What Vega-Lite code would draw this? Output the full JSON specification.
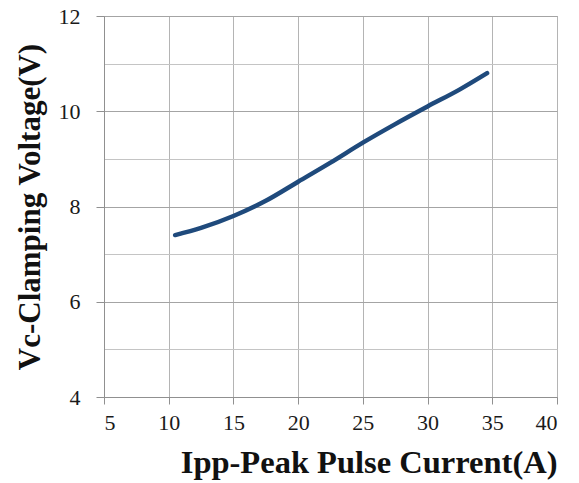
{
  "$schema": "https://vega.github.io/schema/vega-lite/v6.json",
  "width": 453,
  "height": 381,
  "autosize": "none",
  "padding": {"left": 104, "top": 16, "right": 22, "bottom": 86},
  "background": "white",
  "config": {"view": {"stroke": "#a0a0a0", "strokeWidth": 1}},
  "data": {"values": [
    {"current": 10.5, "voltage": 7.4},
    {"current": 12.5, "voltage": 7.55},
    {"current": 15, "voltage": 7.8},
    {"current": 17.5, "voltage": 8.12},
    {"current": 20, "voltage": 8.52},
    {"current": 22.5, "voltage": 8.92},
    {"current": 25, "voltage": 9.34},
    {"current": 27.5, "voltage": 9.73},
    {"current": 30, "voltage": 10.1},
    {"current": 32.5, "voltage": 10.46},
    {"current": 34.6, "voltage": 10.8}
  ]},
  "mark": {"type": "line", "interpolate": "monotone", "color": "#1F4A7C", "strokeWidth": 4.5, "strokeCap": "round"},
  "encoding": {
    "x": {
      "field": "current", "type": "quantitative",
      "scale": {"domain": [5, 40], "nice": false, "zero": false},
      "axis": {
        "title": "Ipp-Peak Pulse Current(A)",
        "values": [5, 10, 15, 20, 25, 30, 35, 40],
        "grid": true, "gridColor": "#b4b4b4", "gridWidth": 1,
        "domainColor": "#909090", "tickColor": "#909090", "tickSize": 7,
        "labelFont": "Liberation Serif", "labelFontSize": 22, "labelColor": "#1a1a1a", "labelPadding": 8,
        "titleFont": "Liberation Serif", "titleFontSize": 32.5, "titleFontWeight": "bold", "titleColor": "#111111",
        "titleAnchor": "end", "titlePadding": 13
      }
    },
    "y": {
      "field": "voltage", "type": "quantitative",
      "scale": {"domain": [4, 12], "nice": false, "zero": false},
      "axis": {
        "title": "Vc-Clamping Voltage(V)",
        "values": [4, 5, 6, 7, 8, 9, 10, 11, 12],
        "labelExpr": "datum.value % 2 === 0 ? datum.label : ''",
        "grid": true,
        "gridColor": {"condition": {"test": "datum.value % 2 === 0", "value": "#a4a4a4"}, "value": "#c4c4c4"},
        "gridWidth": 1,
        "domainColor": "#909090",
        "tickColor": "#909090",
        "tickOpacity": {"condition": {"test": "datum.value % 2 === 0", "value": 1}, "value": 0},
        "tickSize": 8,
        "labelFont": "Liberation Serif", "labelFontSize": 22, "labelColor": "#1a1a1a", "labelPadding": 16,
        "titleFont": "Liberation Serif", "titleFontSize": 31, "titleFontWeight": "bold", "titleColor": "#111111",
        "titlePadding": 12
      }
    }
  }
}
